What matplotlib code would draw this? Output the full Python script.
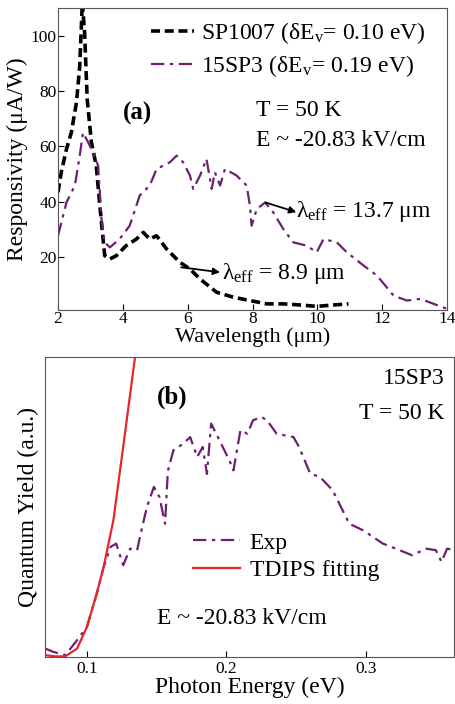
import numpy as np
import matplotlib
matplotlib.use('Agg')
import matplotlib.pyplot as plt

plt.rcParams['font.family'] = ['Liberation Serif', 'DejaVu Serif']
plt.rcParams['mathtext.fontset'] = 'custom'
plt.rcParams['mathtext.rm'] = 'Liberation Serif'
plt.rcParams['mathtext.it'] = 'Liberation Serif:italic'

# panel (a): responsivity vs wavelength
wl_sp1007 = [2.0, 2.1, 2.26, 2.41, 2.57, 2.67, 2.75, 2.82, 2.9, 3.03, 3.18, 3.29, 3.44,
             3.6, 3.8, 4.1, 4.42, 4.63, 4.83, 5.04, 5.35, 5.76, 6.07, 6.38, 6.89,
             7.41, 7.92, 8.44, 8.95, 9.47, 9.98, 10.5, 10.96]
r_sp1007 = [43.5, 50.7, 59, 65, 76, 89, 112, 101, 77, 61.5, 53, 38.6, 20.6,
            19.4, 20.6, 24.2, 26.6, 29, 26.6, 27.8, 23, 18.2, 15.8, 12.2, 7.4,
            5.6, 4.4, 3.2, 3.2, 2.8, 2.3, 2.8, 3.2]

wl_15sp3 = [2.0, 2.26, 2.52, 2.67, 2.77, 2.93, 3.08, 3.24, 3.34, 3.44, 3.6, 3.9, 4.21,
            4.52, 4.83, 5.04, 5.45, 5.66, 5.86, 6.07, 6.17, 6.38, 6.58, 6.74, 6.84,
            7.0, 7.15, 7.51, 7.82, 7.92, 7.97, 8.13, 8.39, 8.64, 8.95, 9.26, 9.67,
            9.98, 10.19, 10.6, 10.91, 11.43, 11.84, 12.35, 12.76, 13.18, 13.59, 14.0]
r_15sp3 = [27.8, 39.8, 45.9, 56.7, 65, 61.5, 57.9, 53, 33.8, 25.4, 23.6, 26.6, 31.4,
           42.3, 45.9, 51.9, 54.3, 56.7, 54.3, 49.5, 44.7, 49.5, 55.5, 44.7, 50.7,
           45.9, 51.9, 49.5, 45.9, 38.6, 31.4, 37.4, 39.8, 36.2, 30.2, 25.4, 24.2,
           21.8, 26.6, 25.4, 21.8, 17, 13.4, 6.2, 4.4, 5, 3.2, 1.4]

# panel (b): quantum yield vs photon energy
e_exp = [0.0702, 0.076, 0.0845, 0.093, 0.1, 0.107, 0.112, 0.117, 0.121, 0.126, 0.131,
         0.136, 0.138, 0.143, 0.148, 0.152, 0.156, 0.158, 0.162, 0.169, 0.174, 0.179,
         0.183, 0.186, 0.189, 0.195, 0.202, 0.205, 0.21, 0.215, 0.219, 0.225, 0.229,
         0.236, 0.248, 0.252, 0.26, 0.267, 0.276, 0.288, 0.298, 0.312, 0.324, 0.333,
         0.343, 0.35, 0.354, 0.358, 0.363]
qy_exp = [0.028, 0.017, 0.006, 0.056, 0.1, 0.21, 0.30, 0.367, 0.378, 0.306, 0.361,
          0.356, 0.40, 0.50, 0.567, 0.533, 0.444, 0.62, 0.689, 0.711, 0.733, 0.667,
          0.70, 0.61, 0.778, 0.722, 0.656, 0.622, 0.756, 0.744, 0.789, 0.80, 0.789,
          0.744, 0.733, 0.70, 0.611, 0.60, 0.556, 0.444, 0.422, 0.378, 0.356, 0.339,
          0.361, 0.356, 0.317, 0.361, 0.356]
e_fit = [0.0702, 0.0775, 0.0845, 0.093, 0.1, 0.107, 0.112, 0.119, 0.126, 0.1345, 0.137]
qy_fit = [0.006, 0.002, 0.002, 0.028, 0.1, 0.21, 0.30, 0.456, 0.70, 1.0, 1.1]

purple = '#6e1f72'
red = '#e8252b'
dashdot = (0, (6, 2.5, 1.5, 2.5))
fs = 17

fig = plt.figure(figsize=(4.55, 7.04), dpi=100)

ax1 = fig.add_axes([0.1275, 0.5597, 0.855, 0.429])
ax1.plot(wl_sp1007, r_sp1007, color='black', lw=2.6, linestyle=(0, (2.5, 1.3)),
         label='SP1007 (δE$_{\\rm v}$= 0.10 eV)')
ax1.plot(wl_15sp3, r_15sp3, color=purple, lw=1.6, linestyle=dashdot,
         label='15SP3 (δE$_{\\rm v}$= 0.19 eV)')
ax1.set_xlim(2, 14)
ax1.set_ylim(1, 110)
ax1.set_xticks([2, 4, 6, 8, 10, 12, 14])
ax1.set_yticks([20, 40, 60, 80, 100])
ax1.tick_params(direction='in', labelsize=12.5, length=4, pad=1)
ax1.set_xlabel('Wavelength (μm)', fontsize=16, labelpad=0)
ax1.set_ylabel('Responsivity (μA/W)', fontsize=fs, labelpad=2)
ax1.legend(loc='upper right', bbox_to_anchor=(1.0, 1.03), frameon=False, fontsize=fs,
           handlelength=1.8, handletextpad=0.3, labelspacing=0.3)
ax1.text(4.45, 72, '(a)', fontsize=18, fontweight='bold', ha='center', va='center')
ax1.text(8.1, 73, 'T = 50 K', fontsize=fs, va='center')
ax1.text(8.1, 62, 'E ~ -20.83 kV/cm', fontsize=fs, va='center')
ax1.text(9.35, 36.5, 'λ$_{\\rm eff}$ = 13.7 μm', fontsize=fs, va='center')
ax1.text(7.05, 14.2, 'λ$_{\\rm eff}$ = 8.9 μm', fontsize=fs, va='center')
ax1.annotate('', xy=(9.35, 36.3), xytext=(8.4, 39.8),
             arrowprops=dict(arrowstyle='-|>', color='black', lw=1.3, shrinkA=0, shrinkB=0))
ax1.annotate('', xy=(7.0, 14.6), xytext=(5.8, 16.4),
             arrowprops=dict(arrowstyle='-|>', color='black', lw=1.3, shrinkA=0, shrinkB=0))
for s in ax1.spines.values():
    s.set_color('#555555')

ax2 = fig.add_axes([0.0989, 0.0668, 0.899, 0.4261])
ax2.plot(e_exp, qy_exp, color=purple, lw=1.6, linestyle=dashdot, label='Exp')
ax2.plot(e_fit, qy_fit, color=red, lw=1.6, label='TDIPS fitting')
ax2.set_xlim(0.07, 0.363)
ax2.set_ylim(0, 1)
ax2.set_xticks([0.1, 0.2, 0.3])
ax2.set_yticks([])
ax2.tick_params(direction='in', labelsize=12.5, length=4, pad=3)
ax2.set_xlabel('Photon Energy (eV)', fontsize=fs, labelpad=0)
ax2.set_ylabel('Quantum Yield (a.u.)', fontsize=fs, labelpad=4)
ax2.legend(loc='center left', bbox_to_anchor=(0.31, 0.335), frameon=False, fontsize=fs,
           handlelength=2.0, handletextpad=0.4, labelspacing=0.25)
ax2.text(0.161, 0.867, '(b)', fontsize=18, fontweight='bold', ha='center', va='center')
ax2.text(0.356, 0.928, '15SP3', fontsize=fs, ha='right', va='center')
ax2.text(0.356, 0.811, 'T = 50 K', fontsize=fs, ha='right', va='center')
ax2.text(0.211, 0.128, 'E ~ -20.83 kV/cm', fontsize=fs, ha='center', va='center')
for s in ax2.spines.values():
    s.set_color('#555555')

plt.savefig('out.png', dpi=100)
